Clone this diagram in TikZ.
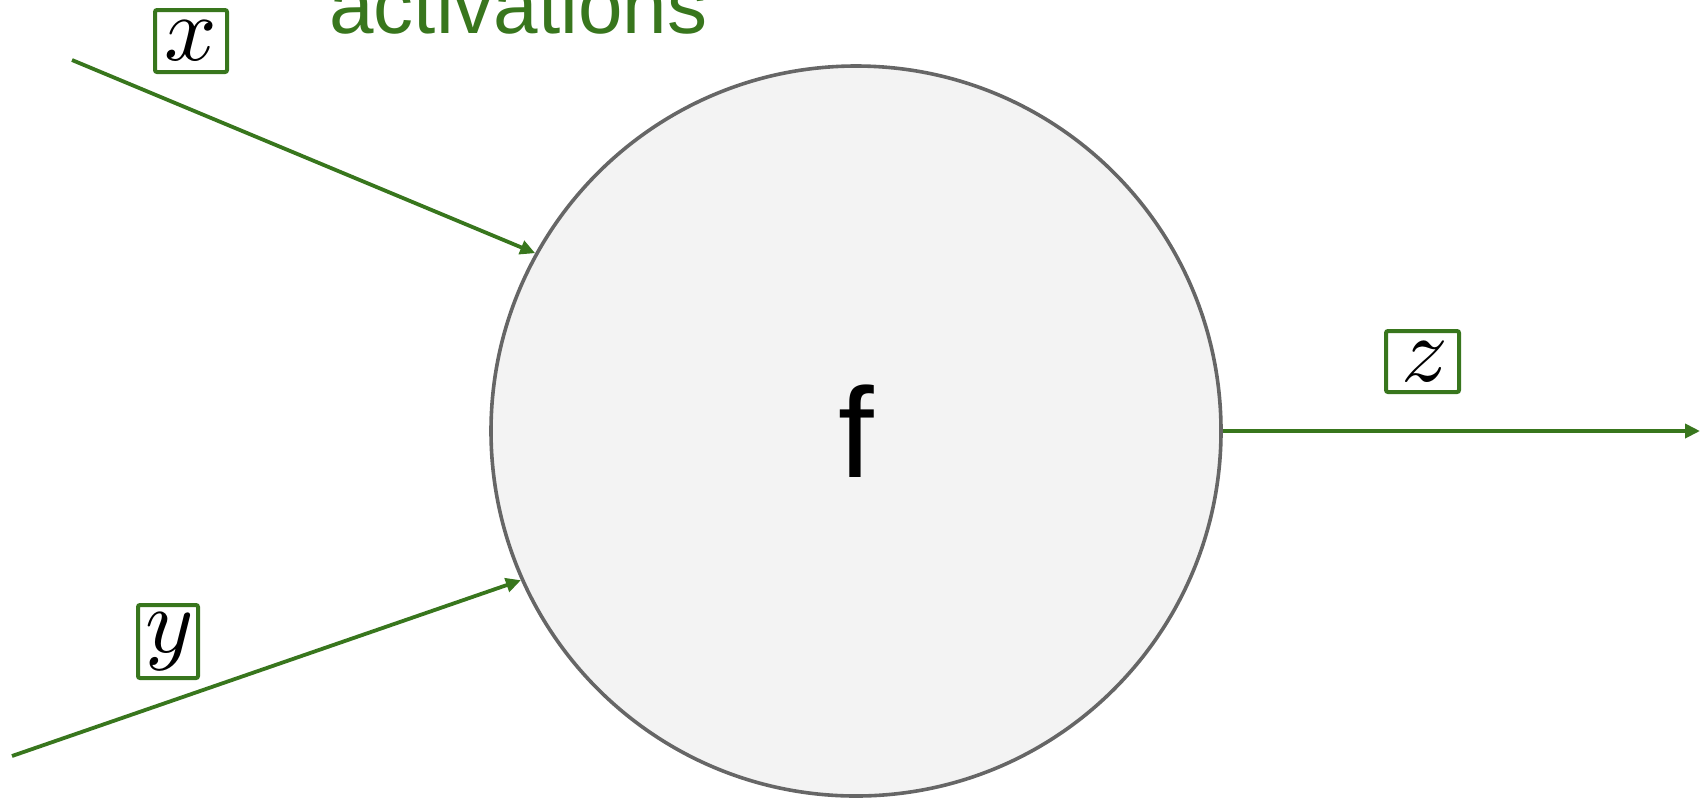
\RequirePackage{fix-cm}
\documentclass[tikz,border=0pt]{standalone}
\usepackage{fontspec}
\setmainfont{Liberation Sans}
\usetikzlibrary{positioning, arrows.meta}
\definecolor{wiregreen}{RGB}{56, 118, 29}
\definecolor{nodefill}{RGB}{243, 243, 243}
\definecolor{nodeborder}{RGB}{102, 102, 102}
\font\varfont=cmmi10 at 46pt

\begin{document}
\begin{tikzpicture}[x=0.5pt, y=-0.5pt,
        wire/.style={draw=wiregreen, line width=1.9pt, -{Triangle[length=7.5pt, width=7pt]}},
        varbox/.style={draw=wiregreen, line width=2pt, fill=white, rounded corners=1pt, inner sep=0pt, font=\varfont}]
                \useasboundingbox (0,0) rectangle (1701,800);
                % the unit and its output
                \node[circle, draw=nodeborder, fill=nodefill, line width=1.8pt, minimum size=365pt, inner sep=0pt, font=\fontsize{64}{64}\selectfont] (f) at (856,431) {f};
                \node[anchor=base west, text=wiregreen, inner sep=0pt, font=\fontsize{40}{40}\selectfont] (act) at (329,33) {activations};
                % inputs and output wires
                \coordinate (xin) at (72,60);
                \coordinate (yin) at (12,756);
                \coordinate (zout) at (1700,431);
                \draw[wire] (xin) -- (f.151.6);
                \draw[wire] (yin) -- (f.204.7);
                \draw[wire] (f.east) -- (zout);
                % variable labels
                \node[varbox, minimum width=36pt, minimum height=31pt] (xlab) at (191,41) {x};
                \node[varbox, minimum width=30pt, minimum height=36.5pt] (ylab) at (168,641.5) {y};
                \node[varbox, minimum width=36.5pt, minimum height=30.5pt] (zlab) at (1422.5,361.5) {z};
            \end{tikzpicture}
\end{document}
